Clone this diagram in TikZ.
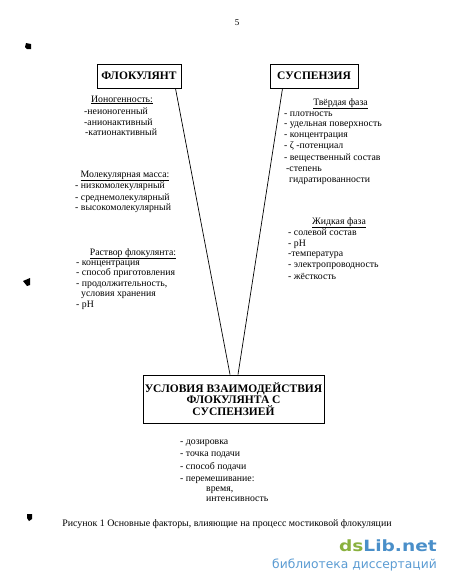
\documentclass[tikz,border=0pt]{standalone}
\usepackage{fontspec}
\setmainfont{Liberation Serif}
\newfontfamily\wmfont{DejaVu Sans}
\definecolor{wmgreen}{HTML}{8AB13F}
\definecolor{wmblue}{HTML}{4A8FC9}
\definecolor{wmblue2}{HTML}{5A9BD2}
\begin{document}
\begin{tikzpicture}[x=1pt,y=-1pt,
  titlebox/.style={draw,line width=1pt,inner sep=0pt,align=center,font=\fontsize{11.5}{12}\selectfont\bfseries},
  item/.style={anchor=base west,inner sep=0pt,font=\fontsize{9.8}{11}\selectfont},
  head/.style={anchor=base,inner sep=0pt,font=\fontsize{9.8}{11}\selectfont},
  conn/.style={line width=0.7pt},
  blob/.style={fill=black}]
\useasboundingbox (0,0) rectangle (450,582);
\node[inner sep=0pt,font=\fontsize{9}{10}\selectfont] (pg) at (237,23) {5};
% boxes
\node[titlebox,minimum width=84pt,minimum height=24pt] (flok) at (139,76) {ФЛОКУЛЯНТ};
\node[titlebox,minimum width=88pt,minimum height=24pt] (susp) at (314,76) {СУСПЕНЗИЯ};
\node[titlebox,minimum width=181pt,minimum height=48pt,font=\fontsize{11.5}{11.8}\selectfont\bfseries] (cond) at (233.5,399) {УСЛОВИЯ ВЗАИМОДЕЙСТВИЯ\\ФЛОКУЛЯНТА С\\СУСПЕНЗИЕЙ};
% connectors
\draw[conn] ([xshift=-6pt]flok.south east) -- ([xshift=-3.5pt]cond.north);
\draw[conn] ([xshift=13pt]susp.south west) -- ([xshift=4.5pt]cond.north);
% left texts
\node[head] (h1) at (122,102) {\underline{Ионогенность:}};
\node[item] (h1a) at (84,114) {-неионогенный};
\node[item] (h1b) at (84,125) {-анионактивный};
\node[item] (h1c) at (85,135) {-катионактивный};
\node[head] (h2) at (125,177) {\underline{Молекулярная масса:}};
\node[item] (h2a) at (75,188) {- низкомолекулярный};
\node[item] (h2b) at (75,200) {- среднемолекулярный};
\node[item] (h2c) at (75,210) {- высокомолекулярный};
\node[head] (h3) at (133,255) {\underline{Раствор флокулянта:}};
\node[item] (h3a) at (76,265) {- концентрация};
\node[item] (h3b) at (76,275) {- способ приготовления};
\node[item] (h3c) at (76,286) {- продолжительность,};
\node[item] (h3d) at (81,296) {условия хранения};
\node[item] (h3e) at (76,307) {- pH};
% right texts
\node[head] (r1) at (340.5,105) {\underline{Твёрдая фаза}};
\node[item] (r1a) at (284,116) {- плотность};
\node[item] (r1b) at (284,126) {- удельная поверхность};
\node[item] (r1c) at (284,137) {- концентрация};
\node[item] (r1d) at (284,148) {- ζ -потенциал};
\node[item] (r1e) at (284,160) {- вещественный состав};
\node[item] (r1f) at (286,171) {-степень};
\node[item] (r1g) at (289,182) {гидратированности};
\node[head] (r2) at (339,224) {\underline{Жидкая фаза}};
\node[item] (r2a) at (288,235) {- солевой состав};
\node[item] (r2b) at (288,246) {- pH};
\node[item] (r2c) at (288,256) {-температура};
\node[item] (r2d) at (288,267) {- электропроводность};
\node[item] (r2e) at (288,279) {- жёсткость};
% bottom list
\node[item] (b1) at (180,444) {- дозировка};
\node[item] (b2) at (180,456) {- точка подачи};
\node[item] (b3) at (180,469) {- способ подачи};
\node[item] (b4) at (180,481) {- перемешивание:};
\node[item] (b5) at (206,491) {время,};
\node[item] (b6) at (206,501) {интенсивность};
% caption
\node[anchor=base,inner sep=0pt,font=\fontsize{9.9}{11}\selectfont] (cap) at (227,526.5) {Рисунок 1 Основные факторы, влияющие на процесс мостиковой флокуляции};
% scan marks
\fill[blob] (26,43) -- (31,44) -- (31,49) -- (27,49) -- (25,47) -- cycle;
\fill[blob] (23,281) -- (30,278) -- (30,285) -- (27,286) -- cycle;
\fill[blob] (27,514) -- (32,514) -- (32,519) -- (29,521) -- (27,518) -- cycle;
% watermark
\node[anchor=base east,inner sep=0pt,font=\wmfont\bfseries\fontsize{15.5}{16}\selectfont] (wm1) at (437,551) {\scalebox{1.2}[1]{\textcolor{wmgreen}{ds}\textcolor{wmblue}{Lib.net}}};
\node[anchor=base east,inner sep=0pt,font=\wmfont\fontsize{12.3}{13}\selectfont,text=wmblue2] (wm2) at (437,568) {библиотека диссертаций};
\end{tikzpicture}
\end{document}
